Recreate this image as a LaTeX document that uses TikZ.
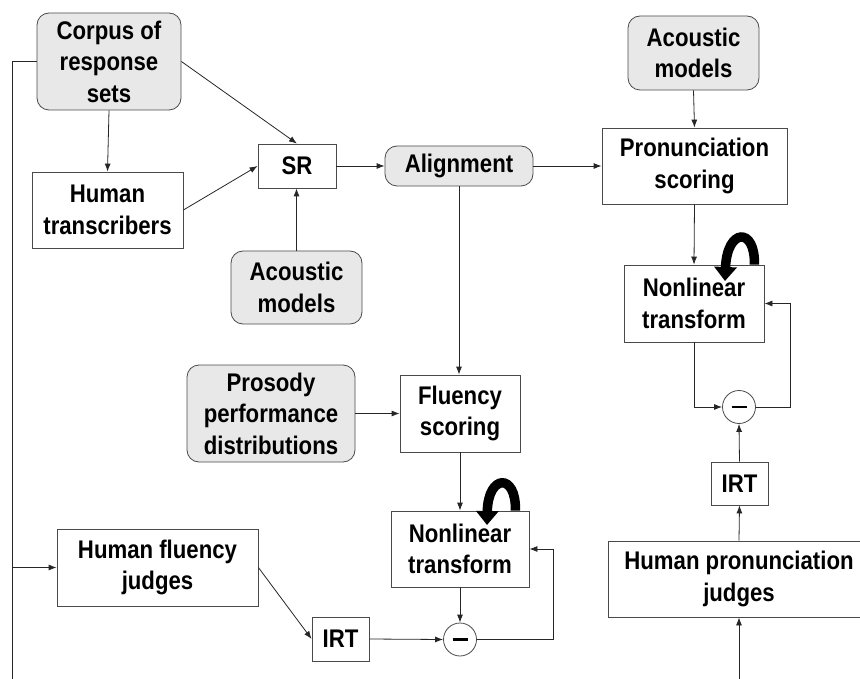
\documentclass[tikz,border=0pt]{standalone}
\usepackage{fontspec}
\setmainfont{Liberation Sans}
\newfontfamily\diagfont{Liberation Sans}[FakeStretch=0.87]
\usetikzlibrary{arrows.meta}
\definecolor{boxline}{HTML}{4A4A4A}
\definecolor{softgray}{HTML}{E8E8E8}
\newcommand\labelfont{\diagfont\bfseries\fontsize{25.5}{31.5}\selectfont}
\tikzset{
  box/.style={draw=boxline, line width=0.8pt, fill=white, inner sep=0pt,
              align=center, font=\labelfont},
  soft/.style={box, rounded corners=12pt, fill=softgray},
  sumnode/.style={circle, draw=boxline, line width=0.8pt, fill=white,
                  inner sep=0pt, minimum size=33pt},
  link/.style={line width=0.8pt, draw=black!85},
  arr/.style={link, -{Latex[length=8pt,width=6pt]}},
  selfloop/.style={line width=9.5pt, -{Triangle[length=14pt,width=22pt]}},
}
\begin{document}
\begin{tikzpicture}[x=1pt, y=-1pt]
\useasboundingbox (0,0) rectangle (860,679);

% sources and processing blocks
\node[soft, minimum width=144pt, minimum height=97pt] (corpus) at (109,61.5)
  {Corpus of\\response\\sets};
\node[box, minimum width=151pt, minimum height=76pt] (trans) at (107.5,210)
  {Human\\transcribers};
\node[box, minimum width=78pt, minimum height=44pt] (sr) at (297,166) {SR};
\node[soft, minimum width=148pt, minimum height=40pt] (align) at (459,166)
  {Alignment};
\node[soft, minimum width=131pt, minimum height=73pt] (amA) at (296.5,287.5)
  {Acoustic\\models};
\node[soft, minimum width=131pt, minimum height=74pt] (amB) at (693.5,53)
  {Acoustic\\models};
\node[box, minimum width=185pt, minimum height=76pt] (pron) at (694.5,166)
  {Pronunciation\\scoring};
\node[box, minimum width=140pt, minimum height=77pt] (nlB) at (694,303.5)
  {Nonlinear\\transform};
\node[sumnode] (sumB) at (739,407) {\rule{15pt}{2.6pt}};
\node[box, minimum width=57pt, minimum height=43pt] (irtB) at (739.5,483.5) {IRT};
\node[box, minimum width=262pt, minimum height=76pt] (hpj) at (739,579)
  {Human pronunciation\\judges};
\node[soft, minimum width=168pt, minimum height=97pt] (pros) at (271,413.5)
  {Prosody\\performance\\distributions};
\node[box, minimum width=120pt, minimum height=77pt] (flu) at (460,413.5)
  {Fluency\\scoring};
\node[box, minimum width=138pt, minimum height=76pt] (nlA) at (460,549)
  {Nonlinear\\transform};
\node[sumnode] (sumA) at (460,639.5) {\rule{15pt}{2.6pt}};
\node[box, minimum width=57pt, minimum height=44pt] (irtA) at (340.5,639) {IRT};
\node[box, minimum width=201pt, minimum height=77pt] (hfj) at (157.5,567.5)
  {Human fluency\\judges};

% free ends running off the lower edge
\coordinate (railL) at (12,685);
\coordinate (railR) at (739,685);

% recognition chain
\draw[arr] (corpus.east) -- (sr.north);
\draw[arr] (corpus.south) -- (trans.north);
\draw[arr] (trans.east) -- (sr.west);
\draw[arr] (amA.north) -- (amA.north |- sr.south);
\draw[arr] (sr.east) -- (align.west);
\draw[arr] (align.east) -- (pron.west);
\draw[arr] (align.south) -- (align.south |- flu.north);
\draw[arr] (amB.south) -- (pron.north);
\draw[arr] (pron.south) -- (nlB.north);
\draw[arr] (pros.east) -- (flu.west);
\draw[arr] (flu.south) -- (nlA.north);

% corpus feed to the human judges
\draw[link] (corpus.west) -| (railL);
\draw[arr] (hfj.west -| railL) -- (hfj.west);
\draw[arr] (hfj.east) -- (irtA.west);
\draw[arr] (railR) -- (hpj.south);
\draw[arr] (hpj.north) -- (irtB.south);
\draw[arr] (irtB.north) -- (sumB.south);
\draw[arr] (irtA.east) -- (sumA.west);

% error feedback loops
\draw[arr] (nlB.south) |- (sumB.west);
\draw[arr] (sumB.east) -- ++(34,0) |- (nlB.east);
\draw[arr] (nlA.south) -- (sumA.north);
\draw[arr] (sumA.east) -- ++(76.5,0) |- (nlA.east);

% adaptation arrows over the transforms
\draw[selfloop] ([xshift=-10pt]nlB.north east) .. controls ++(1,-38) and (727,228) .. (725,281);
\draw[selfloop] ([xshift=-14pt]nlA.north east) .. controls ++(1,-38) and (488,474) .. (487,525);
\end{tikzpicture}
\end{document}
